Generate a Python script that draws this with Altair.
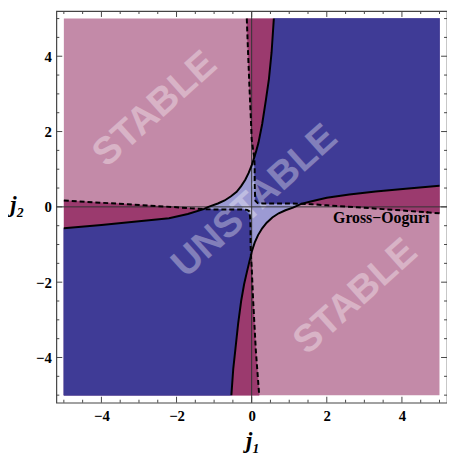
import altair as alt
import pandas as pd

# ---------------- data ----------------
# solid stability boundary, upper-left branch (split at its crossings with the dashed curves)
S1_low_x = [-5.0, -4.0, -3.0, -2.2, -1.7, -1.28]
S1_low_y = [-0.57, -0.48, -0.38, -0.30, -0.19, -0.06]
S1_mid_x = [-1.28, -1.15, -0.9, -0.72, -0.55, -0.4, -0.28, -0.17, -0.08, 0.0, 0.04, 0.07]
S1_mid_y = [-0.06, 0.0, 0.09, 0.17, 0.28, 0.4, 0.55, 0.72, 0.9, 1.1, 1.22, 1.32]
S1_high_x = [0.07, 0.12, 0.18, 0.28, 0.38, 0.46, 0.53, 0.59]
S1_high_y = [1.32, 1.48, 1.7, 2.2, 2.85, 3.4, 4.1, 5.0]
# solid boundary, lower-right branch
S2_low_x = [-0.54, -0.49, -0.43, -0.36, -0.28, -0.2, -0.12, -0.06, -0.02]
S2_low_y = [-5.0, -4.3, -3.75, -3.1, -2.5, -2.05, -1.7, -1.45, -1.3]
S2_mid_x = [-0.02, 0.0, 0.08, 0.17, 0.28, 0.4, 0.55, 0.72, 0.9, 1.1, 1.32]
S2_mid_y = [-1.3, -1.2, -0.95, -0.75, -0.57, -0.42, -0.28, -0.17, -0.09, -0.02, 0.08]
S2_high_x = [1.32, 1.6, 2.0, 2.6, 3.3, 4.1, 5.0]
S2_high_y = [0.08, 0.15, 0.24, 0.33, 0.41, 0.48, 0.56]
# dashed (Gross-Ooguri) boundary, first-quadrant branch
DA_top_x = [-0.13, -0.1, -0.06, -0.02, 0.0, 0.04, 0.07]
DA_top_y = [5.0, 4.2, 3.2, 2.3, 1.8, 1.5, 1.32]
DA_mid_x = [0.07, 0.08, 0.08, 0.09, 0.1, 0.16, 0.3, 0.6, 1.0, 1.32]
DA_mid_y = [1.32, 1.0, 0.6, 0.3, 0.16, 0.1, 0.09, 0.09, 0.09, 0.08]
DA_right_x = [1.32, 1.6, 2.0, 2.8, 3.5, 4.2, 5.0]
DA_right_y = [0.08, 0.07, 0.04, -0.01, -0.06, -0.11, -0.17]
# dashed boundary, third-quadrant branch
DB_left_x = [-5.0, -4.2, -3.3, -2.5, -2.0, -1.6, -1.28]
DB_left_y = [0.17, 0.12, 0.07, 0.02, -0.01, -0.04, -0.06]
DB_mid_x = [-1.28, -1.0, -0.6, -0.3, -0.12, -0.06, -0.04, -0.03, -0.03, -0.02]
DB_mid_y = [-0.06, -0.07, -0.07, -0.07, -0.08, -0.12, -0.3, -0.6, -1.0, -1.3]
DB_bot_x = [-0.02, 0.0, 0.04, 0.11, 0.2]
DB_bot_y = [-1.3, -1.6, -2.5, -3.8, -5.0]

REGION_LO, REGION_HI = -5.0, 5.0
AXIS_LO, AXIS_HI = -5.2, 5.2
MAJOR_TICKS = [-4, -2, 0, 2, 4]
MINOR_TICKS = [-5, -4.5, -3.5, -3, -2.5, -1.5, -1, -0.5, 0.5, 1, 1.5, 2.5, 3, 3.5, 4.5, 5]

REGION_TEXT = ["STABLE", "UNSTABLE", "STABLE"]
REGION_TEXT_X = [-2.58, 0.08, 2.76]
REGION_TEXT_Y = [2.6, 0.16, -2.38]
CURVE_LABEL = "Gross\u2212Ooguri"
CURVE_LABEL_X, CURVE_LABEL_Y = 3.45, -0.31

PINK, MAGENTA, BLUE, LAVENDER = "#c38aa8", "#9b3a6e", "#3f3b96", "#9c9ad3"

# ---------------- geometry built from the read curves ----------------
def pts(xs, ys):
    return list(zip(xs, ys))

S1_low, S1_mid, S1_high = pts(S1_low_x, S1_low_y), pts(S1_mid_x, S1_mid_y), pts(S1_high_x, S1_high_y)
S2_low, S2_mid, S2_high = pts(S2_low_x, S2_low_y), pts(S2_mid_x, S2_mid_y), pts(S2_high_x, S2_high_y)
DA_top, DA_mid, DA_right = pts(DA_top_x, DA_top_y), pts(DA_mid_x, DA_mid_y), pts(DA_right_x, DA_right_y)
DB_left, DB_mid, DB_bot = pts(DB_left_x, DB_left_y), pts(DB_mid_x, DB_mid_y), pts(DB_bot_x, DB_bot_y)

S1 = S1_low + S1_mid[1:] + S1_high[1:]
S2 = S2_low + S2_mid[1:] + S2_high[1:]
DA = DA_top + DA_mid[1:] + DA_right[1:]
DB = DB_left + DB_mid[1:] + DB_bot[1:]
TR = (REGION_HI, REGION_HI)
BL = (REGION_LO, REGION_LO)

def rows(name, p):
    return [{"shape": name, "i": k, "x": x, "y": y} for k, (x, y) in enumerate(p)]

W, H = 396, 397
xscale = alt.Scale(domain=[AXIS_LO, AXIS_HI], nice=False, zero=False)
yscale = alt.Scale(domain=[AXIS_LO, AXIS_HI], nice=False, zero=False)
lab = dict(labelFont="Liberation Serif", labelFontWeight="bold", labelFontSize=15,
           labelColor="black", domain=False, ticks=False, tickSize=0, grid=False,
           values=MAJOR_TICKS, format="d", titleFont="Liberation Serif",
           titleFontStyle="italic", titleFontWeight="bold", titleFontSize=23,
           titleColor="black", titleAngle=0, titleAlign="center", titleBaseline="middle")
xaxis = alt.Axis(title="j\u2081", labelPadding=6, titleX=199, titleY=38, **lab)
yaxis = alt.Axis(title="j\u2082", labelPadding=5, titleX=-40, titleY=196, **lab)

def X(f="x"):
    return alt.X(f"{f}:Q", scale=xscale, axis=xaxis)

def Y(f="y"):
    return alt.Y(f"{f}:Q", scale=yscale, axis=yaxis)

def polys(shapes, color):
    data = []
    for name, p in shapes:
        data += rows(name, p)
    return alt.Chart(pd.DataFrame(data)).mark_line(
        fill=color, color=color, strokeWidth=0.6, interpolate="linear"
    ).encode(x=X(), y=Y(), detail="shape:N", order="i:Q")

background = alt.Chart(pd.DataFrame({"x0": [REGION_LO], "x1": [REGION_HI],
                                     "y0": [REGION_LO], "y1": [REGION_HI]})).mark_rect(
    color=PINK).encode(x=X("x0"), x2="x1", y=Y("y0"), y2="y1")

magenta = polys([("A", DA + [TR]), ("B", DB + [BL])], MAGENTA)
lavender = polys([("band", S1 + [TR] + S2[::-1] + [BL])], LAVENDER)
blue = polys([("Aband", S1_high + [TR] + S2_high[::-1] + DA_mid[::-1]),
              ("Bband", S1_low[::-1] + [BL] + S2_low + DB_mid[::-1])], BLUE)

texts = alt.Chart(pd.DataFrame({"t": REGION_TEXT, "x": REGION_TEXT_X, "y": REGION_TEXT_Y})).mark_text(
    font="Liberation Sans", fontWeight="bold", fontSize=39, angle=318, color="white",
    opacity=0.35, align="center", baseline="middle"
).encode(x=X(), y=Y(), text="t:N")

zero_v = alt.Chart(pd.DataFrame({"x": [0]})).mark_rule(color="#333", strokeWidth=1).encode(x=X())
zero_h = alt.Chart(pd.DataFrame({"y": [0]})).mark_rule(color="#333", strokeWidth=1).encode(y=Y())

def curve(shapes, dash):
    data = []
    for name, p in shapes:
        data += rows(name, p)
    kw = dict(color="black", strokeWidth=2.0)
    if dash:
        kw["strokeDash"] = [5, 3]
    return alt.Chart(pd.DataFrame(data)).mark_line(**kw).encode(
        x=X(), y=Y(), detail="shape:N", order="i:Q")

solid = curve([("S1", S1), ("S2", S2)], False)
dashed = curve([("DA", DA), ("DB", DB)], True)

label = alt.Chart(pd.DataFrame({"t": [CURVE_LABEL], "x": [CURVE_LABEL_X], "y": [CURVE_LABEL_Y]})).mark_text(
    font="Liberation Serif", fontWeight="bold", fontSize=16, color="black"
).encode(x=X(), y=Y(), text="t:N")

def ticks(vals, n):
    d = pd.DataFrame({"v": vals})
    base = alt.Chart(d).mark_rule(color="#444", strokeWidth=1)
    return [
        base.encode(x=X("v"), y=alt.value(H), y2=alt.value(H - n)),
        base.encode(x=X("v"), y=alt.value(0), y2=alt.value(n)),
        base.encode(y=Y("v"), x=alt.value(0), x2=alt.value(n)),
        base.encode(y=Y("v"), x=alt.value(W), x2=alt.value(W - n)),
    ]

chart = alt.layer(
    background, magenta, lavender, blue, texts, zero_v, zero_h, solid, dashed, label,
    *ticks(MAJOR_TICKS, 6), *ticks(MINOR_TICKS, 3)
).properties(
    width=W, height=H,
    autosize=alt.AutoSizeParams(type="none"),
    padding={"left": 49, "top": 0, "right": 0, "bottom": 54},
).configure_view(stroke="#444", strokeWidth=1.2)

chart.save("out.html", embed_options={"renderer": "svg", "actions": False})
